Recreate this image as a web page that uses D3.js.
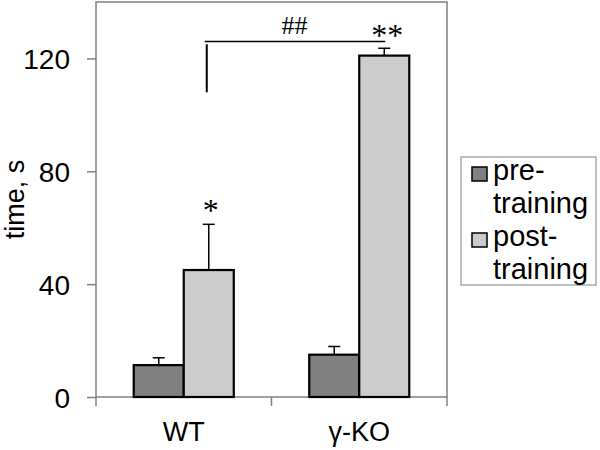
<!DOCTYPE html>
<html>
<head>
<meta charset="utf-8">
<script src="https://cdn.jsdelivr.net/npm/d3@7"></script>
<style>
    body { margin: 0; background: #fff; }
    .label { font-family: "Liberation Sans", Arial, sans-serif; fill: #000; }
    .mark { font-family: "Liberation Serif", "Times New Roman", serif; fill: #000; }
</style>
</head>
<body>
<div class="chart"></div>
<script>

// data
var groups = ["WT", "\u03b3-KO"];
var seriesNames = ["pre-training", "post-training"];
var preMeans = [11.3, 15.0];
var preErrors = [2.6, 2.9];
var postMeans = [45.0, 121.0];
var postErrors = [16.2, 2.6];
var yTicks = [0, 40, 80, 120];
var colors = ["#808080", "#cccccc"];


/*
 * Set up dimensions
 */
var margin = { top: 2, right: 153, bottom: 53, left: 96 };
var width = 600 - margin.left - margin.right;
var height = 450 - margin.top - margin.bottom;

var svg = d3.select(".chart").append("svg")
    .attr("width", 600)
    .attr("height", 450);

var g = svg.append("g")
    .attr("transform", "translate(" + margin.left + "," + margin.top + ")");

// build rows for drawing
var rows = [];
groups.forEach(function(grp, i) {
    rows.push({ group: grp, series: seriesNames[0], value: preMeans[i], err: preErrors[i], color: colors[0] });
    rows.push({ group: grp, series: seriesNames[1], value: postMeans[i], err: postErrors[i], color: colors[1] });
});


/*
 * Scales
 */
var x = d3.scaleBand()
    .domain(groups)
    .range([0, width])
    .padding(0);

var groupWidth = x.bandwidth() * 0.57;

var xSub = d3.scaleBand()
    .domain(seriesNames)
    .range([0, groupWidth])
    .padding(0);

var y = d3.scaleLinear()
    .domain([0, 140])
    .range([height, 0]);

function barX(d) {
    return x(d.group) + (x.bandwidth() - groupWidth) / 2 + xSub(d.series);
}
function barMid(d) {
    return barX(d) + xSub.bandwidth() / 2;
}


/*
 * Plot frame
 */
g.append("rect")
    .attr("x", 0)
    .attr("y", 0)
    .attr("width", width)
    .attr("height", height)
    .attr("fill", "none")
    .attr("stroke", "#808080")
    .attr("stroke-width", 1.5);


/*
 * Axes
 */
var yAxis = d3.axisLeft(y)
    .tickValues(yTicks)
    .tickSize(9)
    .tickPadding(17)
    .tickFormat(d3.format("d"));

var yAxisGroup = g.append("g")
    .attr("class", "y-axis axis")
    .call(yAxis);
yAxisGroup.select(".domain").remove();
yAxisGroup.selectAll("line").attr("stroke", "#808080").attr("stroke-width", 1.5);
yAxisGroup.selectAll("text")
    .attr("dy", "0.36em")
    .style("font-family", "'Liberation Sans', Arial, sans-serif")
    .style("font-size", "28px")
    .style("fill", "#000");

// category ticks sit on the band edges
var xAxis = d3.axisBottom(x)
    .tickSize(0)
    .tickPadding(25);

var xAxisGroup = g.append("g")
    .attr("class", "x-axis axis")
    .attr("transform", "translate(0," + height + ")")
    .call(xAxis);
xAxisGroup.select(".domain").remove();
xAxisGroup.selectAll("text")
    .attr("dy", "0.71em")
    .style("font-family", "'Liberation Sans', Arial, sans-serif")
    .style("font-size", "27px")
    .style("fill", "#000");

var edges = [0].concat(groups.map(function(d) { return x(d) + x.bandwidth(); }));
g.selectAll(".band-tick")
    .data(edges)
    .enter()
    .append("line")
    .attr("class", "band-tick")
    .attr("x1", function(d) { return d; })
    .attr("x2", function(d) { return d; })
    .attr("y1", height)
    .attr("y2", height + 9)
    .attr("stroke", "#808080")
    .attr("stroke-width", 1.5);

// y axis title
svg.append("text")
    .attr("class", "label")
    .attr("transform", "translate(24," + (margin.top + y(70)) + ") rotate(-90)")
    .attr("text-anchor", "middle")
    .style("font-size", "27px")
    .text("time, s");


/*
 * Bars and error bars
 */
g.selectAll(".bar")
    .data(rows)
    .enter()
    .append("rect")
    .attr("class", "bar")
    .attr("x", barX)
    .attr("y", function(d) { return y(d.value); })
    .attr("width", xSub.bandwidth())
    .attr("height", function(d) { return height - y(d.value); })
    .attr("fill", function(d) { return d.color; })
    .attr("stroke", "#000")
    .attr("stroke-width", 2.2);

var capHalf = 6;
var err = g.selectAll(".err")
    .data(rows)
    .enter()
    .append("g")
    .attr("class", "err");

err.append("line")
    .attr("x1", barMid)
    .attr("x2", barMid)
    .attr("y1", function(d) { return y(d.value); })
    .attr("y2", function(d) { return y(d.value + d.err); })
    .attr("stroke", "#000")
    .attr("stroke-width", 1.5);

err.append("line")
    .attr("x1", function(d) { return barMid(d) - capHalf; })
    .attr("x2", function(d) { return barMid(d) + capHalf; })
    .attr("y1", function(d) { return y(d.value + d.err); })
    .attr("y2", function(d) { return y(d.value + d.err); })
    .attr("stroke", "#000")
    .attr("stroke-width", 1.5);


/*
 * Significance marks
 */
var wtPost = rows[1];
var koPost = rows[3];

g.append("text")
    .attr("class", "mark")
    .attr("x", barMid(wtPost) + 2)
    .attr("y", y(wtPost.value + wtPost.err) - 3)
    .attr("text-anchor", "middle")
    .style("font-size", "32px")
    .text("*");

g.append("text")
    .attr("class", "mark")
    .attr("x", barMid(koPost) + 3)
    .attr("y", y(koPost.value + koPost.err) - 2)
    .attr("text-anchor", "middle")
    .style("font-size", "32px")
    .text("**");

// bracket between the post-training bars
var bracketY = y(126);
g.append("line")
    .attr("x1", barMid(wtPost) - 4)
    .attr("x2", barMid(koPost) + 1)
    .attr("y1", bracketY)
    .attr("y2", bracketY)
    .attr("stroke", "#000")
    .attr("stroke-width", 1.5);

g.append("line")
    .attr("x1", barMid(wtPost) - 2)
    .attr("x2", barMid(wtPost) - 2)
    .attr("y1", y(125))
    .attr("y2", y(108))
    .attr("stroke", "#000")
    .attr("stroke-width", 2);

g.append("text")
    .attr("class", "mark")
    .attr("x", (barMid(wtPost) + barMid(koPost)) / 2 - 2)
    .attr("y", bracketY - 8)
    .attr("text-anchor", "middle")
    .style("font-size", "26px")
    .text("##");


/*
 * Legend
 */
var legend = svg.append("g")
    .attr("transform", "translate(461,157)");

legend.append("rect")
    .attr("width", 135)
    .attr("height", 128)
    .attr("fill", "#fff")
    .attr("stroke", "#808080")
    .attr("stroke-width", 1);

var legendLines = [["pre-", "training"], ["post-", "training"]];

var item = legend.selectAll(".legend-item")
    .data(seriesNames)
    .enter()
    .append("g")
    .attr("class", "legend-item")
    .attr("transform", function(d, i) { return "translate(0," + (i * 66) + ")"; });

item.append("rect")
    .attr("x", 11)
    .attr("y", 10)
    .attr("width", 15)
    .attr("height", 14)
    .attr("fill", function(d, i) { return colors[i]; })
    .attr("stroke", "#000")
    .attr("stroke-width", 1.5);

item.append("text")
    .attr("class", "label")
    .attr("x", 32)
    .attr("y", 23)
    .style("font-size", "29px")
    .text(function(d, i) { return legendLines[i][0]; });

item.append("text")
    .attr("class", "label")
    .attr("x", 32)
    .attr("y", 56)
    .style("font-size", "29px")
    .text(function(d, i) { return legendLines[i][1]; });

</script>
</body>
</html>
